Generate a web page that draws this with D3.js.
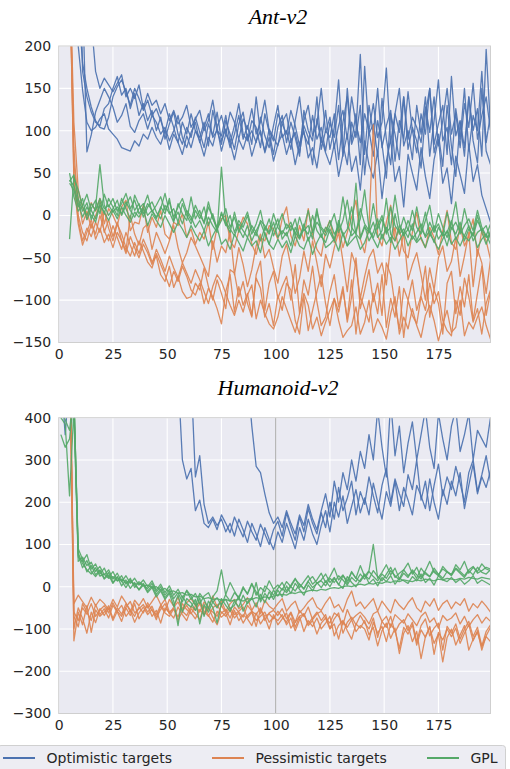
<!DOCTYPE html>
<html>
<head>
<meta charset="utf-8">
<script src="https://cdnjs.cloudflare.com/ajax/libs/d3/7.8.5/d3.min.js"></script>
<style>
body { margin: 0; background: #fff; }
svg text { font-family: "DejaVu Sans", sans-serif; fill: #262626; }
</style>
</head>
<body>
<div id="chart"></div>
<script>
'use strict';

// epochs (x values) for each panel
var antEpochs = d3.range(5, 200, 2);      // 98 points
var humEpochs = d3.range(1, 200, 2);      // 100 points

var xTicks = [0, 25, 50, 75, 100, 125, 150, 175];
var antYTicks = [-150, -100, -50, 0, 50, 100, 150, 200];
var humYTicks = [-300, -200, -100, 0, 100, 200, 300, 400];

var methodNames = ["Optimistic targets", "Pessimistic targets", "GPL"];
var methodColors = ["#4c72b0", "#dd8452", "#55a868"];

// ---- Ant-v2 ----
var antOpt1 = [400,400,400,260,75,95,122,136,150,140, 128,110,118,132,105,98,112,120,102,118, 110,96,104,88,100,118,92,80,98,110, 86,104,120,92,100,84,112,96,78,108, 122,90,100,86,116,94,80,106,130,92, 100,78,112,140,96,84,118,90,104,76, 110,92,130,70,150,88,120,60,176,96, 108,70,138,90,60,120,150,82,100,66, 130,96,140,70,112,160,88,104,60,126, 90,150,76,118,100,170,86,120];
var antOpt2 = [400,400,250,180,150,128,112,104,102,116, 140,152,160,146,130,150,138,124,136,118, 126,112,98,120,104,86,110,96,120,100, 92,110,82,124,100,94,118,86,106,132, 96,88,112,104,80,120,98,72,104,118, 86,110,92,70,124,100,88,140,78,100, 92,120,66,110,140,84,100,190,72,130, 96,150,80,106,124,64,112,90,146,100, 74,120,96,150,84,108,130,72,164,94, 112,80,140,100,126,70,196,104];
var antOpt3 = [400,400,400,400,330,230,170,150,162,154, 146,156,166,140,150,138,154,126,144,130, 136,120,132,112,124,108,116,130,104,114, 124,100,112,136,104,118,96,122,110,90, 114,102,126,96,110,136,100,88,120,108, 96,124,106,82,112,130,94,108,150,98, 116,80,106,124,90,140,108,86,120,100, 132,92,110,174,86,120,98,140,90,116, 104,86,128,98,140,82,112,150,96,120, 80,132,104,156,90,118,140,100];
var antOpt4 = [400,400,200,148,110,100,104,114,120,102, 96,90,80,78,76,88,82,96,90,104, 92,84,100,78,96,86,72,94,80,100, 88,70,92,82,104,76,96,86,66,90, 78,96,70,88,100,74,92,64,84,96, 72,90,60,84,100,68,80,56,92,74, 60,84,46,72,96,52,70,30,88,60, 44,76,20,64,90,40,58,10,72,50, 30,80,46,20,66,90,38,56,14,70, 48,26,84,40,60,24,8,-8];
var antOpt5 = [400,400,400,170,140,122,110,106,126,132, 150,164,142,150,126,144,118,132,112,124, 100,116,90,108,122,96,84,104,92,116, 98,80,108,94,122,88,102,80,96,118, 90,106,84,140,96,76,102,92,82,110, 120,88,98,74,106,92,60,114,86,124, 78,104,160,84,60,110,92,130,48,100, 70,112,84,44,120,96,66,140,78,104, 88,56,120,150,74,96,58,130,82,46, 110,70,140,88,62,150,76,60];

var antPes1 = [300,110,30,10,-5,15,5,20,-10,8, 0,-12,10,18,-18,-8,-10,12,-20,-2, -14,6,-22,-28,-8,-12,2,-26,-16,-34, -20,-28,-8,-40,-14,-4,0,-30,-38,-18, -2,-10,-34,-46,-26,-30,-12,-16,-28,-4, 10,-24,-36,-12,-30,8,-22,-40,-48,-18, -6,-32,-14,-38,-20,-2,18,-28,-44,-12, 107,-24,-36,-8,12,-30,-16,-42,-50,-20, 4,-28,-38,-14,-26,-46,-18,6,-32,-40, -12,-36,-24,-4,-48,-18,-30,-52];
var antPes2 = [300,60,20,-10,5,-15,0,12,-20,-5, -25,-8,-30,-42,0,-22,-35,-15,-10,-40, -20,-32,-45,-30,-12,-38,-56,-44,-26,-36, -48,-60,-72,-30,-55,-36,-44,-18,-70,-38, -58,-84,-64,-36,-22,-50,-40,-62,-80,-48, -34,-60,-92,-74,-42,-66,-30,-56,-84,-46, -62,-38,-20,-54,-90,-44,-60,-98,-72,-50, -40,-68,-56,-82,-34,-14,-48,-20,-76,-58, -44,-70,-100,-62,-88,-50,-36,-66,-54,-26, -72,-48,-20,-84,-40,-56,-92,-52];
var antPes3 = [300,45,-5,-30,-15,-25,-8,-20,5,-15, -30,-10,-22,-38,-48,-32,-45,-28,-40,-55, -48,-70,-78,-60,-85,-72,-90,-98,-96,-80, -88,-62,-84,-100,-76,-92,-110,-64,-68,-96, -78,-104,-120,-70,-54,-112,-80,-66,-98,-84, -72,-100,-58,-116,-76,-94,-60,-102,-130,-120, -90,-70,-108,-84,-126,-96,-50,-110,-88,-64, -102,-80,-118,-56,-70,-106,-134,-86,-100,-76, -112,-94,-60,-120,-88,-104,-140,-80,-66,-116, -84,-108,-70,-124,-92,-60,-118,-90];
var antPes4 = [300,80,0,-20,-30,-10,-22,0,-18,-30, -12,-26,-40,-20,-35,-48,-30,-42,-55,-62, -45,-58,-70,-84,-66,-78,-60,-72,-88,-94, -80,-104,-86,-96,-110,-128,-90,-70,-114,-84, -106,-92,-118,-74,-86,-120,-104,-130,-94,-112, -80,-88,-124,-140,-96,-136,-112,-90,-70,-104, -130,-98,-114,-88,-122,-76,-140,-96,-110,-126, -92,-116,-70,-132,-98,-120,-84,-144,-100,-118, -128,-96,-112,-80,-104,-90,-124,-136,-142,-100, -118,-74,-96,-126,-110,-140,-104,-88];
var antPes5 = [300,40,-10,-35,-20,-5,-28,-15,-32,-22, -38,-20,-30,-45,-25,-38,-50,-34,-44,-58, -40,-52,-66,-48,-62,-74,-56,-68,-80,-64, -76,-90,-104,-84,-70,-78,-92,-106,-118,-100, -114,-94,-82,-122,-100,-116,-128,-134,-120,-96, -110,-124,-138,-116,-92,-106,-134,-120,-142,-126, -112,-98,-124,-144,-136,-130,-108,-140,-126,-100, -138,-122,-132,-146,-116,-96,-140,-120,-134,-110, -130,-144,-118,-106,-124,-148,-128,-112,-138,-132, -100,-142,-126,-134,-120,-108,-130,-146];

var antGpl1 = [-28,45,30,10,0,14,6,20,8,12, 4,10,2,16,6,-2,8,14,0,6, -4,10,2,20,-6,4,-10,6,-2,-14, -6,-18,-2,-12,-20,57,-8,-16,-24,-10, -18,-26,-12,-20,-30,-14,-22,-8,-26,-18, -24,-12,-20,-28,-16,-22,0,-18,-26,-14, -20,-30,-10,-24,-16,10,-22,-28,-14,-20, -8,-26,-18,20,-22,-30,-12,-24,-16,-28, -20,-10,-26,-18,-32,-14,-24,-20,-6,-28, -18,-24,-12,-30,-20,-16,-26,-22];
var antGpl2 = [40,48,20,5,15,-5,10,60,12,0, 8,18,0,12,22,6,14,-2,10,16, 4,-4,12,2,8,-8,14,0,-10,6, -4,10,-12,2,-16,-6,8,-14,-2,-20, -8,4,-16,-24,-6,-12,-20,2,-14,-22, -10,-18,-4,-26,-14,6,-20,-8,-16,-24, -12,2,-20,-6,18,-14,-22,8,-10,-18, 14,-16,-4,-22,10,-12,-20,-2,-18,6, -14,-22,-6,12,-18,-10,-24,4,-16,-8, -20,8,-14,-24,-6,-18,-12,-28];
var antGpl3 = [38,30,10,20,-5,8,18,2,25,10, 20,5,14,26,8,18,2,10,24,4, 12,22,6,16,-2,10,20,4,-6,12, 0,-8,16,-4,-14,2,-10,-20,4,-16, -26,-12,-30,-18,-8,-22,-34,-16,-4,-28, -20,-36,-14,-26,-10,-30,-18,8,-24,-32, -16,-28,-6,-22,-36,-18,38,-26,-12,-30, -20,-4,-28,-14,-32,2,-22,-16,-26,-10, -30,-18,4,-24,-12,-28,-20,-36,-14,-22, -8,-30,-16,-24,0,-20,-34,-18];
var antGpl4 = [42,35,15,-2,10,0,-8,12,4,-6, 6,-4,10,0,-8,4,-2,8,-12,2, -6,-14,0,-10,-20,-8,-16,-26,-12,-22, -30,-18,-36,-24,-14,-34,-28,-40,-22,-32, -42,-26,-36,-30,-44,-20,-34,-40,-28,-38, -30,-44,-24,-36,-40,-26,-46,-32,-22,-38, -34,-28,-42,-20,-36,-30,-24,-40,-32,-18, -28,-38,-22,-34,-26,-40,-30,-20,-36,-24, -32,-26,-38,-22,-30,-40,-28,-18,-34,-26, -36,-24,-30,-20,-38,-28,-22,-34];
var antGpl5 = [50,22,5,12,25,6,-4,16,2,20, 10,0,20,8,-4,24,12,2,14,6, -2,8,26,4,-8,14,2,-6,22,-4, 6,-10,10,-2,-18,4,-12,0,-20,-6, -14,0,-22,-10,6,-18,-4,-24,-12,2, -16,-8,-24,-2,-18,-12,-28,4,-14,-20, -6,-22,-14,22,-10,-24,-18,-4,30,-16, -26,-12,0,-20,-14,24,-10,-22,-6,-18, 10,-16,-24,-8,-20,2,-14,-26,-10,16, -22,-12,-4,-18,6,-14,-24,-10];

// ---- Humanoid-v2 ----
var N = null;
var humOpt1 = [N,N,N,N,N,N,N,N,N,N, N,N,N,N,N,N,N,N,N,N, N,N,N,N,N,N,N,500,300,255, 280,180,205,150,140,160,135,170,150,128, 165,140,118,155,130,110,148,125,100,135, 155,120,175,140,110,165,130,185,150,125, 175,140,200,160,235,180,210,250,170,225, 195,260,215,175,240,280,200,255,220,190, 265,230,300,205,250,180,240,290,215,260, 230,285,245,200,270,300,225,265,310,250];
var humOpt2 = [N,N,N,N,N,N,N,N,N,N, N,N,N,N,N,N,N,N,N,N, N,N,N,N,N,N,N,N,N,N, 500,260,310,195,150,165,145,160,130,150, 120,160,135,105,150,125,95,140,112,88, 130,105,150,120,90,140,110,160,125,100, 145,180,130,200,165,215,150,190,230,175, 210,170,245,200,160,225,190,250,180,235, 205,170,240,215,185,255,200,160,230,195, 250,215,270,185,240,290,220,260,235,275];
var humOpt3 = [500,360,500,N,N,N,N,N,N,N, N,N,N,N,N,N,N,N,N,N, N,N,N,N,N,N,N,N,N,N, N,N,N,N,N,N,N,N,N,N, N,N,N,500,380,285,270,220,175,150, 165,140,180,150,125,170,145,195,160,135, 180,220,165,250,200,270,230,300,250,320, 280,360,300,420,330,260,440,310,380,270, 340,390,300,360,420,330,280,410,350,300, 380,420,320,360,410,300,370,350,330,400];

var humPes1 = [N,N,600,-40,-20,-35,-50,-25,-45,-30, -40,-55,-30,-48,-22,-38,-60,-32,-45,-28, -50,-35,-20,-42,-58,-30,-46,-25,-52,-38, -28,-44,-60,-36,-50,-22,-48,-34,-58,-40, -30,-52,-42,-26,-56,-38,-64,-32,-46,-54, -40,-28,-58,-44,-34,-62,-50,-36,-26,-48, -56,-38,-24,-50,-42,-60,-30,-10,-46,-36, -52,-40,-28,-58,-34,-48,-62,-30,-44,-54, -38,-26,-50,-60,-34,-46,-28,-56,-40,-32, -52,-36,-44,-28,-58,-40,-50,-34,-46,-60];
var humPes2 = [N,N,600,-128,-60,-90,-45,-108,-55,-70, -60,-45,-75,-50,-65,-40,-55,-70,-48,-62, -38,-56,-66,-44,-30,-60,-52,-72,-40,-54, -64,-46,-36,-58,-70,-50,-42,-62,-54,-74, -48,-60,-72,-44,-58,-66,-50,-80,-62,-56, -68,-52,-76,-60,-84,-56,-70,-48,-78,-64, -58,-74,-86,-62,-70,-90,-54,-78,-68,-60, -72,-88,-64,-58,-82,-70,-96,-66,-76,-86, -64,-78,-92,-70,-60,-84,-74,-98,-68,-80, -74,-62,-88,-70,-94,-78,-66,-86,-72,-82];
var humPes3 = [N,N,600,-60,-80,-50,-65,-40,-70,-55, -45,-62,-38,-58,-70,-48,-35,-62,-52,-42, -60,-46,-72,-54,-40,-64,-48,-36,-58,-68, -46,-56,-40,-66,-52,-60,-70,-44,-62,-50, -66,-58,-48,-74,-60,-94,-54,-70,-64,-76, -58,-72,-84,-62,-96,-70,-64,-88,-74,-60, -80,-66,-98,-76,-62,-110,-84,-72,-90,-68, -86,-100,-74,-120,-82,-96,-70,-108,-88,-78, -104,-84,-130,-92,-76,-116,-98,-86,-150,-94, -110,-88,-124,-100,-82,-118,-96,-140,-106,-90];
var humPes4 = [N,N,600,-100,-50,-75,-110,-60,-85,-52, -68,-50,-80,-58,-44,-70,-56,-84,-62,-48, -66,-54,-78,-46,-62,-70,-52,-80,-58,-44, -62,-76,-54,-66,-48,-72,-90,-60,-70,-56, -74,-62,-86,-68,-58,-80,-70,-60,-84,-72, -80,-66,-90,-74,-104,-78,-64,-92,-80,-112, -86,-74,-100,-88,-124,-82,-96,-78,-106,-92, -100,-126,-84,-110,-94,-130,-88,-104,-146,-96, -112,-90,-138,-102,-120,-94,-160,-108,-126,-100, -118,-98,-134,-110,-90,-128,-104,-150,-116,-96];
var humPes5 = [N,N,600,-70,-95,-40,-60,-80,-42,-66, -52,-74,-44,-60,-82,-50,-68,-40,-76,-58, -44,-70,-56,-86,-50,-62,-74,-48,-66,-80, -52,-64,-78,-46,-68,-84,-58,-72,-62,-90, -56,-80,-66,-76,-92,-62,-88,-72,-100,-66, -90,-76,-62,-98,-84,-70,-106,-80,-94,-74, -100,-86,-70,-116,-92,-80,-104,-124,-88,-98, -80,-114,-96,-140,-104,-86,-122,-98,-158,-110, -92,-130,-106,-170,-118,-96,-134,-112,-178,-120, -100,-138,-114,-92,-150,-124,-108,-142,-118,-130];

var humGpl1 = [360,330,350,450,80,55,40,30,45,25, 30,20,24,14,18,10,12,6,8,2, 4,-2,0,-8,-4,-12,-10,-16,-14,-20, -18,-24,-22,-28,-26,-30,-28,-32,-30,-34, -32,-30,-34,-28,-30,-26,-28,-24,-26,-22, -20,-18,-20,-14,-16,-12,-14,-10,-8,-10, -6,-8,-4,-2,-4,0,2,0,4,6, 4,8,6,10,8,12,10,14,12,16, 14,12,16,14,18,16,14,18,16,20, 18,16,20,18,22,20,18,22,20,18];
var humGpl2 = [400,385,215,420,60,70,50,58,36,48, 28,40,18,32,12,26,8,20,4,16, 0,14,-8,6,-14,2,-20,-6,-26,-10, -30,-16,-40,-22,-14,-36,-26,-44,-18,10, -10,-28,-4,-16,8,-20,-2,-12,14,-6, 4,-8,12,0,18,6,-4,14,24,8, 16,30,10,22,4,26,14,34,20,12, 28,18,38,24,14,30,46,22,32,40, 26,36,20,44,30,24,38,28,42,34, 30,44,36,26,40,48,32,38,46,42];
var humGpl3 = [420,395,370,460,70,60,76,42,54,30, 44,22,36,14,26,6,20,-2,12,4, -4,8,-12,0,-20,-6,-28,-14,-36,-8, -22,-44,-16,-30,-52,-24,-10,40,-20,-34, -14,-26,0,-18,6,-12,-30,2,-8,-20, -4,10,-10,4,20,-2,12,26,6,16, 32,10,24,44,16,28,8,36,20,50, 24,38,100,20,34,52,28,44,18,40, 56,30,46,22,38,60,34,26,48,36, 28,52,40,60,32,46,36,54,42,38];
var humGpl4 = [N,N,N,450,90,65,35,50,28,40, 20,34,10,24,2,16,-4,10,-8,4, -14,-2,-24,-10,-30,-16,-46,-20,-60,-28, -38,-56,-26,-70,-34,-48,-86,-40,-30,-52, -44,-22,-58,-36,-26,-48,-18,-38,-12,-30, -8,-24,2,-16,8,-6,-20,4,-10,10, -2,14,0,20,6,-4,24,10,0,16, 30,8,18,2,22,12,26,6,20,14, 8,24,14,30,10,20,4,26,16,12, 22,10,18,6,14,26,8,16,10,4];
var humGpl5 = [N,N,N,420,75,45,62,36,24,38, 18,28,8,22,14,-2,16,4,-6,8, -10,2,-18,-6,-26,-12,-34,-92,-22,-40, -48,-30,-88,-42,-60,-36,-50,-28,-44,-58, -34,-48,-20,-40,-28,10,-36,-16,-30,-8, -22,-4,-14,0,-10,6,-6,12,-2,8, 14,2,20,10,26,16,4,22,12,30, 18,36,24,14,30,20,38,26,16,32, 22,40,28,18,34,24,44,30,20,36, 26,42,32,22,38,28,46,34,30,40];

var humMarker = 100;   // grey vertical line in the Humanoid panel

var width = 510, height = 769;
var left = 58.7, right = 490.5;

var svg = d3.select("#chart").append("svg")
    .attr("width", width)
    .attr("height", height);

function buildPanel(cfg) {
    var top = cfg.top, bottom = cfg.bottom;

    var xScale = d3.scaleLinear().domain([0, 199]).range([left, right]);
    var yScale = d3.scaleLinear().domain(cfg.yDomain).range([bottom, top]);

    var g = svg.append("g").attr("class", "panel");

    g.append("rect")
        .attr("x", left).attr("y", top)
        .attr("width", right - left).attr("height", bottom - top)
        .attr("fill", "#eaeaf2");

    // grid
    g.selectAll(".gx").data(xTicks).enter().append("line")
        .attr("x1", function(d){ return xScale(d) }).attr("x2", function(d){ return xScale(d) })
        .attr("y1", top).attr("y2", bottom)
        .attr("stroke", "#fff").attr("stroke-width", 1.1);
    g.selectAll(".gy").data(cfg.yTicks).enter().append("line")
        .attr("x1", left).attr("x2", right)
        .attr("y1", function(d){ return yScale(d) }).attr("y2", function(d){ return yScale(d) })
        .attr("stroke", "#fff").attr("stroke-width", 1.1);

    if (cfg.marker != null) {
        g.append("line")
            .attr("x1", xScale(cfg.marker)).attr("x2", xScale(cfg.marker))
            .attr("y1", top).attr("y2", bottom)
            .attr("stroke", "#a8a8a8").attr("stroke-width", 1);
    }

    var clipId = "clip-" + cfg.id;
    svg.append("clipPath").attr("id", clipId)
        .append("rect")
        .attr("x", left).attr("y", top)
        .attr("width", right - left).attr("height", bottom - top);

    var line = d3.line()
        .defined(function(d){ return d[1] != null })
        .x(function(d){ return xScale(d[0]) })
        .y(function(d){ return yScale(d[1]) });

    var lines = g.append("g").attr("clip-path", "url(#" + clipId + ")");
    cfg.groups.forEach(function(runs, m) {
        runs.forEach(function(vals) {
            var pts = vals.map(function(v, i){ return [cfg.epochs[i], v] });
            lines.append("path")
                .datum(pts)
                .attr("d", line)
                .attr("fill", "none")
                .attr("stroke", methodColors[m])
                .attr("stroke-width", 1.3)
                .attr("stroke-opacity", 0.92)
                .attr("stroke-linejoin", "round");
        });
    });

    // frame
    g.append("rect")
        .attr("x", left).attr("y", top)
        .attr("width", right - left).attr("height", bottom - top)
        .attr("fill", "none").attr("stroke", "#cfcfcf").attr("stroke-width", 1);

    var xAxis = g.append("g")
        .attr("transform", "translate(0," + bottom + ")")
        .call(d3.axisBottom(xScale).tickValues(xTicks).tickSize(0).tickPadding(7));
    var yAxis = g.append("g")
        .attr("transform", "translate(" + left + ",0)")
        .call(d3.axisLeft(yScale).tickValues(cfg.yTicks).tickSize(0).tickPadding(7.5));
    [xAxis, yAxis].forEach(function(ax) {
        ax.select(".domain").remove();
        ax.selectAll("text")
            .style("font-family", '"DejaVu Sans", sans-serif')
            .style("font-size", "14px")
            .attr("fill", "#262626");
    });

    svg.append("text")
        .attr("x", 278).attr("y", cfg.titleY)
        .attr("text-anchor", "middle")
        .style("font-family", '"Liberation Serif", "Times New Roman", serif')
        .style("font-style", "italic")
        .style("font-size", "22px")
        .style("fill", "#000")
        .text(cfg.title);
}

buildPanel({
    id: "ant", title: "Ant-v2", titleY: 23.5,
    top: 46, bottom: 342.5,
    yDomain: [-150, 200], yTicks: antYTicks,
    epochs: antEpochs,
    groups: [
        [antOpt1, antOpt2, antOpt3, antOpt4, antOpt5],
        [antPes1, antPes2, antPes3, antPes4, antPes5],
        [antGpl1, antGpl2, antGpl3, antGpl4, antGpl5]
    ]
});

buildPanel({
    id: "hum", title: "Humanoid-v2", titleY: 395,
    top: 417.7, bottom: 713.5,
    yDomain: [-300, 400], yTicks: humYTicks,
    epochs: humEpochs, marker: humMarker,
    groups: [
        [humOpt1, humOpt2, humOpt3],
        [humPes1, humPes2, humPes3, humPes4, humPes5],
        [humGpl1, humGpl2, humGpl3, humGpl4, humGpl5]
    ]
});

// legend
var legend = svg.append("g").attr("class", "legend");
legend.append("rect")
    .attr("x", -2).attr("y", 745.5)
    .attr("width", 507.5).attr("height", 40)
    .attr("rx", 3)
    .attr("fill", "#ededf3").attr("stroke", "#d0d0d0");

var legendX = [3, 212, 427];
var item = legend.selectAll(".item").data(methodNames).enter().append("g")
    .attr("transform", function(d, i){ return "translate(" + legendX[i] + ",758)" });
item.append("line")
    .attr("x1", 0).attr("x2", 32)
    .attr("stroke", function(d, i){ return methodColors[i] })
    .attr("stroke-width", 2);
item.append("text")
    .attr("x", 43.5).attr("y", 5)
    .style("font-size", "14px")
    .attr("fill", "#262626")
    .text(function(d){ return d });
</script>
</body>
</html>
